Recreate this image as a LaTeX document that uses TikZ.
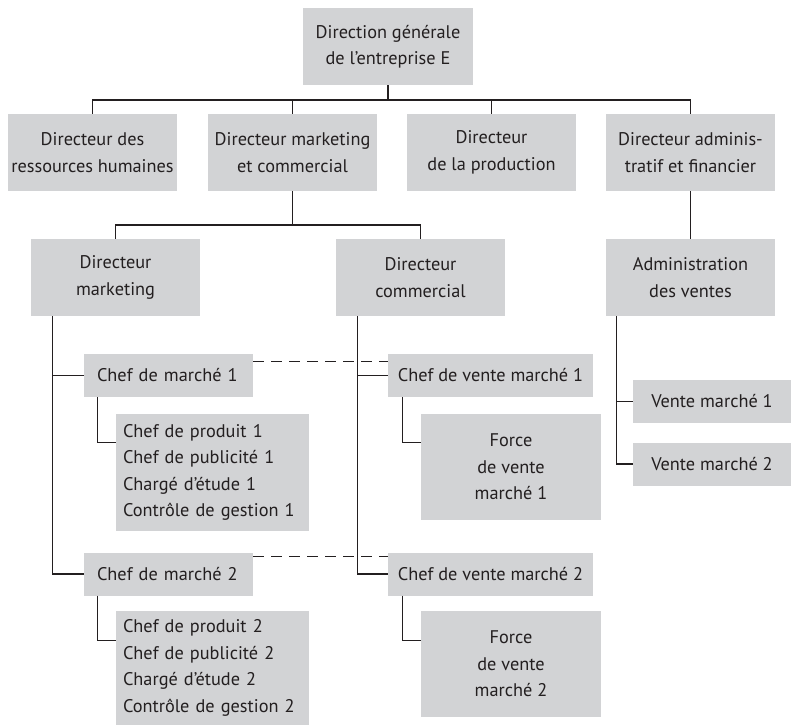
\documentclass[tikz,border=0pt]{standalone}
\usepackage{fontspec}
\setmainfont{PT Sans}
\definecolor{boxgray}{RGB}{210,211,213}
\definecolor{ink}{RGB}{35,31,32}
\begin{document}
\begin{tikzpicture}[x=1pt,y=-1pt,
    box/.style={fill=boxgray, inner sep=0pt, align=center, text=ink,
      font=\fontsize{18.3}{26.5}\selectfont},
    leftbox/.style={box, align=left},
    link/.style={draw=ink, line width=1.2pt},
    rank/.style={link, dash pattern=on 11pt off 7pt}]
  \useasboundingbox (0,0) rectangle (791,725);

  % Top of the organisation
  \node[box, minimum width=170pt, minimum height=77pt] (dg) at (388,46.5)
    {Direction générale\\de l’entreprise E};

  % Second level: the four directors
  \node[box, minimum width=169pt, minimum height=77pt] (rh) at (92.5,152.5)
    {Directeur des\\ressources humaines};
  \node[box, minimum width=169pt, minimum height=77pt] (dmc) at (292.5,152.5)
    {Directeur marketing\\et commercial};
  \node[box, minimum width=169pt, minimum height=77pt] (prod) at (491.5,152.5)
    {Directeur\\de la production};
  \node[box, minimum width=169pt, minimum height=77pt] (daf) at (690.5,152.5)
    {Directeur adminis-\\tratif et financier};

  % Third level
  \node[box, minimum width=169pt, minimum height=77pt] (dm) at (115.5,277.5)
    {Directeur\\marketing};
  \node[box, minimum width=169pt, minimum height=77pt] (dc) at (420.5,277.5)
    {Directeur\\commercial};
  \node[box, minimum width=169pt, minimum height=77pt] (adv) at (690.5,277.5)
    {Administration\\des ventes};

  % Marketing side
  \node[leftbox, text width=153pt, inner xsep=8pt, minimum height=43pt] (cm1) at (168.5,375.5)
    {\hspace*{5pt}Chef de marché 1};
  \node[leftbox, text width=179pt, inner xsep=7pt, minimum height=117pt] (cp1) at (212.5,472.5)
    {Chef de produit 1\\Chef de publicité 1\\Chargé d’étude 1\\Contrôle de gestion 1};
  \node[leftbox, text width=153pt, inner xsep=8pt, minimum height=43pt] (cm2) at (168.5,574)
    {\hspace*{5pt}Chef de marché 2};
  \node[leftbox, text width=179pt, inner xsep=7pt, minimum height=114pt] (cp2) at (212.5,668)
    {Chef de produit 2\\Chef de publicité 2\\Chargé d'étude 2\\Contrôle de gestion 2};

  % Sales side
  \node[box, minimum width=205pt, minimum height=43pt] (cv1) at (490.5,375.5)
    {Chef de vente marché 1};
  \node[box, minimum width=180pt, minimum height=106pt] (fv1) at (511,467)
    {Force\\de vente\\marché 1};
  \node[box, minimum width=205pt, minimum height=43pt] (cv2) at (490.5,574)
    {Chef de vente marché 2};
  \node[box, minimum width=180pt, minimum height=106pt] (fv2) at (511,664)
    {Force\\de vente\\marché 2};

  % Sales administration
  \node[box, minimum width=158pt, minimum height=43pt] (vm1) at (712,401.5)
    {Vente marché 1};
  \node[box, minimum width=158pt, minimum height=43pt] (vm2) at (712,464)
    {Vente marché 2};

  % Bus lines under the managers
  \coordinate (bus) at (388,100);
  \coordinate (bus2) at (292.5,225);
  \draw[link] (dg) -- (bus);
  \draw[link] (rh.north) |- (bus) -| (daf.north);
  \draw[link] (dmc.north) -- (dmc.north |- bus);
  \draw[link] (prod.north) -- (prod.north |- bus);
  \draw[link] (dmc) -- (bus2);
  \draw[link] (dm.north) |- (bus2) -| (dc.north);
  \draw[link] (daf) -- (adv);

  % Drop lines to the lower levels
  \draw[link] ([xshift=22pt]dm.south west) |- (cm1.west);
  \draw[link] ([xshift=22pt]dm.south west) |- (cm2.west);
  \draw[link] ([xshift=22pt]dc.south west) |- (cv1.west);
  \draw[link] ([xshift=22pt]dc.south west) |- (cv2.west);
  \draw[link] ([xshift=14pt]cm1.south west) |- ([yshift=-29pt]cp1.north west);
  \draw[link] ([xshift=14pt]cm2.south west) |- ([yshift=-30pt]cp2.north west);
  \draw[link] ([xshift=15pt]cv1.south west) |- ([yshift=-29pt]fv1.north west);
  \draw[link] ([xshift=15pt]cv2.south west) |- ([yshift=-30pt]fv2.north west);
  \draw[link] ([xshift=11pt]adv.south west) |- (vm1.west);
  \draw[link] ([xshift=11pt]adv.south west) |- (vm2.west);

  % Same-rank links between marketing and sales
  \draw[rank] ([yshift=-8pt]cm1.north east) -- ([yshift=-8pt]cv1.north west);
  \draw[rank] ([yshift=-4pt]cm2.north east) -- ([yshift=-4pt]cv2.north west);
\end{tikzpicture}
\end{document}
